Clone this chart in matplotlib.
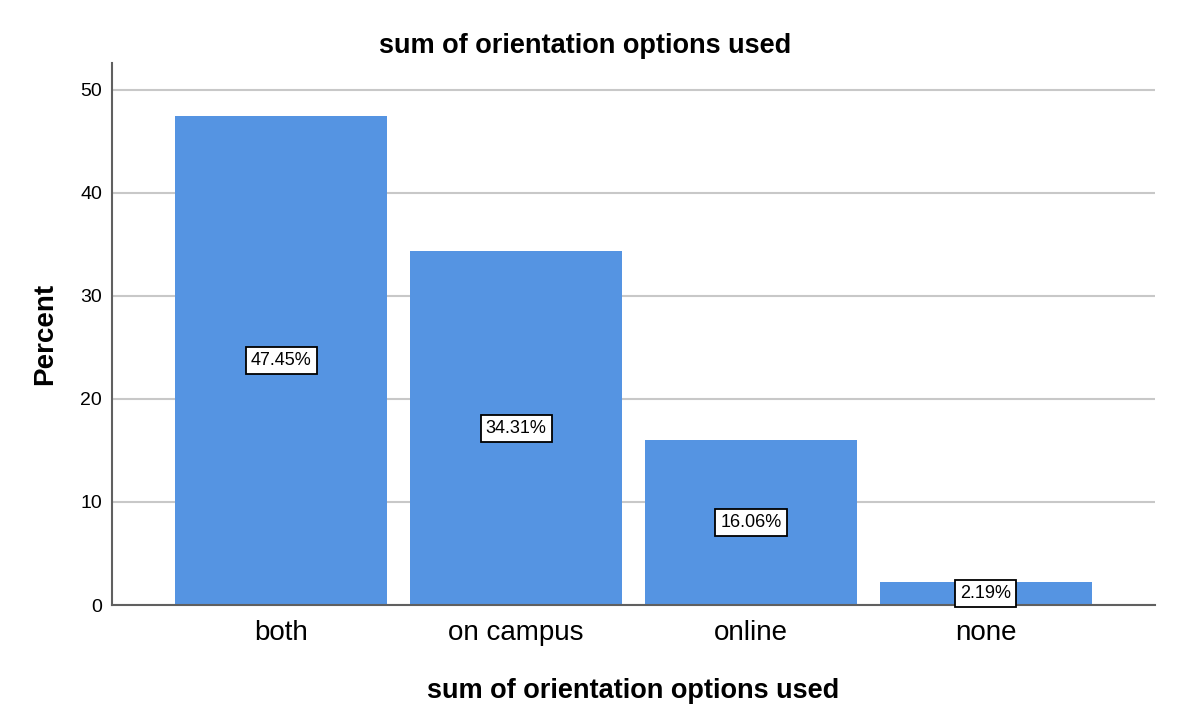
import matplotlib.pyplot as plt

plt.rcParams["font.family"] = ["Liberation Sans", "DejaVu Sans"]

categories = ["both", "on campus", "online", "none"]
percents = [47.45, 34.31, 16.06, 2.19]
labels = ["47.45%", "34.31%", "16.06%", "2.19%"]

fig = plt.figure(figsize=(12, 7.23), dpi=100)
ax = fig.add_axes([0.0933, 0.1632, 0.8692, 0.7497])

x = range(len(categories))
ax.bar(x, percents, width=0.9, color="#5594E2", zorder=2)

for i, v in enumerate(percents):
    ax.text(i, v / 2, labels[i], ha="center", va="center", fontsize=13, zorder=3,
            bbox=dict(boxstyle="square,pad=0.28", facecolor="white",
                      edgecolor="black", linewidth=1.3))

ax.set_xlim(-0.72, 3.72)
ax.set_ylim(0, 52.6)
ax.set_yticks([0, 10, 20, 30, 40, 50])
ax.set_xticks(list(x))
ax.set_xticklabels(categories, fontsize=20)
ax.tick_params(axis="y", labelsize=14, length=0, pad=7)
ax.tick_params(axis="x", length=0, pad=11)

ax.yaxis.grid(True, color="#C8C8C8", linewidth=1.5, zorder=0)
ax.set_axisbelow(True)

for s in ["top", "right"]:
    ax.spines[s].set_visible(False)
for s in ["left", "bottom"]:
    ax.spines[s].set_color("#606060")
    ax.spines[s].set_linewidth(1.5)

ax.set_ylabel("Percent", fontsize=20, fontweight="bold", labelpad=16)
ax.set_xlabel("sum of orientation options used", fontsize=19.5, fontweight="bold", labelpad=23)
fig.text(585 / 1200, 1 - 46 / 723, "sum of orientation options used",
         ha="center", va="center", fontsize=19.5, fontweight="bold")

fig.savefig("out.png", dpi=100)
